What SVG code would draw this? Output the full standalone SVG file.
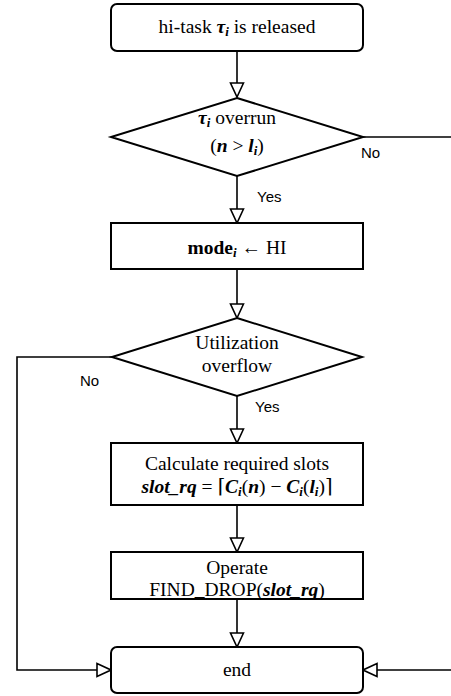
<svg xmlns="http://www.w3.org/2000/svg" width="451" height="696" viewBox="0 0 451 696">
<style>
.box{fill:#fff;stroke:#000;stroke-width:2}
.t{font-family:"Liberation Serif","DejaVu Serif",serif;font-size:19.5px;fill:#000;text-anchor:middle}
.m{font-style:italic;font-weight:bold}
.b{font-weight:bold}
.lbl{font-family:"Liberation Sans",Arial,sans-serif;font-size:15px;fill:#000}
.c{fill:none;stroke:#000;stroke-width:1.6}
</style>
<defs>
<marker id="ah" viewBox="0 0 16 16" refX="15" refY="8" markerWidth="16" markerHeight="16" markerUnits="userSpaceOnUse" orient="auto">
<path d="M1,1.5 L15,8 L1,14.5 Z" fill="#fff" stroke="#000" stroke-width="1.6"/>
</marker>
</defs>
<g id="connectors">
<path class="c" d="M237,51 V97" marker-end="url(#ah)"/>
<path class="c" d="M363,137 H451"/>
<path class="c" d="M237,176 V223" marker-end="url(#ah)"/>
<path class="c" d="M237,269 V318" marker-end="url(#ah)"/>
<path class="c" d="M112,357 H17 V670 H111" marker-end="url(#ah)"/>
<path class="c" d="M237,396 V443" marker-end="url(#ah)"/>
<path class="c" d="M237,505 V552" marker-end="url(#ah)"/>
<path class="c" d="M237,599 V647" marker-end="url(#ah)"/>
<path class="c" d="M451,670 H363" marker-end="url(#ah)"/>
<text class="lbl" x="361" y="158">No</text>
<text class="lbl" x="257" y="202">Yes</text>
<text class="lbl" x="80" y="386">No</text>
<text class="lbl" x="255" y="412">Yes</text>
</g>
<g id="start">
<rect class="box" x="111" y="4" width="252" height="47" rx="6"/>
<text class="t" x="237" y="33">hi-task <tspan class="m">τ<tspan font-size="13" dy="3">i</tspan></tspan><tspan dy="-3"> is released</tspan></text>
</g>
<g id="overrun">
<polygon class="box" points="237,98 363,137 237,176 111,137"/>
<text class="t" x="237" y="124"><tspan class="m">τ<tspan font-size="13" dy="3">i</tspan></tspan><tspan dy="-3">  overrun</tspan></text>
<text class="t" x="237" y="152">(<tspan class="m">n</tspan> &gt; <tspan class="m">l<tspan font-size="13" dy="3">i</tspan></tspan><tspan dy="-3">)</tspan></text>
</g>
<g id="mode">
<rect class="box" x="111" y="223" width="252" height="46"/>
<text class="t" x="237" y="254"><tspan class="b">mode</tspan><tspan class="m" font-size="13" dy="3">i</tspan><tspan dy="-3"> ← HI</tspan></text>
</g>
<g id="util">
<polygon class="box" points="237,318 362,357 237,396 112,357"/>
<text class="t" x="237" y="349">Utilization</text>
<text class="t" x="237" y="372">overflow</text>
</g>
<g id="calc">
<rect class="box" x="111" y="443" width="252" height="62"/>
<text class="t" x="237" y="470">Calculate required slots</text>
<text class="t" x="237" y="493"><tspan class="m">slot_rq</tspan> = ⌈<tspan class="m">C<tspan font-size="13" dy="3">i</tspan></tspan><tspan dy="-3">(</tspan><tspan class="m">n</tspan>) − <tspan class="m">C<tspan font-size="13" dy="3">i</tspan></tspan><tspan dy="-3">(</tspan><tspan class="m">l<tspan font-size="13" dy="3">i</tspan></tspan><tspan dy="-3">)⌉</tspan></text>
</g>
<g id="operate">
<rect class="box" x="111" y="552" width="252" height="47"/>
<text class="t" x="237" y="574">Operate</text>
<text class="t" x="237" y="596">FIND_DROP(<tspan class="m">slot_rq</tspan>)</text>
</g>
<g id="end">
<rect class="box" x="111" y="647" width="252" height="46" rx="6"/>
<text class="t" x="237" y="676">end</text>
</g>
</svg>
